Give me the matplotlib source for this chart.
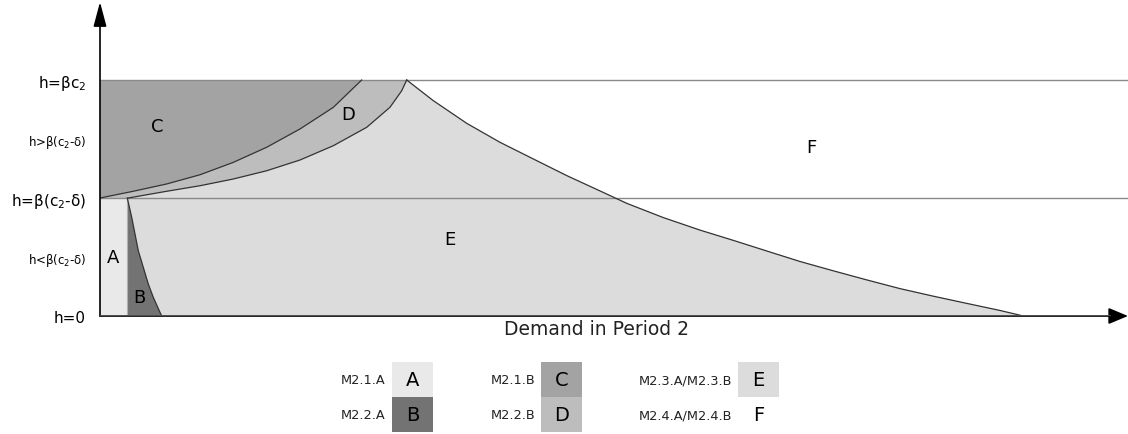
import numpy as np
import matplotlib.pyplot as plt
from matplotlib.patches import Rectangle

# x: demand in period 2 (pixel-like units from origin), y: h level
# (1 = beta(c2-delta), 2 = beta*c2)
curve_c_x = [0, 33.3, 66.7, 100, 133.3, 166.7, 200, 233.3, 261.7]
curve_c_y = [1.0, 1.057, 1.119, 1.197, 1.302, 1.43, 1.585, 1.768, 2.0]

curve_d_x = [28.3, 66.7, 100, 133.3, 166.7, 200, 233.3, 266.7, 290, 301.7, 306.7]
curve_d_y = [1.0, 1.057, 1.104, 1.161, 1.231, 1.322, 1.443, 1.599, 1.769, 1.909, 2.0]

curve_e_x = [306.7, 333.3, 366.7, 400, 433.3, 466.7, 500, 526.7, 563, 600, 633.3,
	666.7, 700, 733.3, 766.7, 800, 833.3, 866.7, 900, 923.3]
curve_e_y = [2.0, 1.825, 1.633, 1.472, 1.331, 1.19, 1.06, 0.955, 0.835, 0.728, 0.641,
	0.551, 0.462, 0.383, 0.306, 0.232, 0.168, 0.107, 0.047, 0.0]

curve_b_x = [27.3, 31.7, 35, 38.3, 43.3, 48.3, 53.3, 60, 61.7]
curve_b_y = [1.0, 0.836, 0.695, 0.553, 0.412, 0.271, 0.158, 0.031, 0.0]

a_right = 27.3
h_levels = [0, 0.5, 1, 1.5, 2]
h_labels = ['h=0', r'h<β(c$_2$-δ)', r'h=β(c$_2$-δ)', r'h>β(c$_2$-δ)', r'h=βc$_2$']
h_sizes = [11, 8.5, 11, 8.5, 11]

region_letters = ['A', 'B', 'C', 'D', 'E', 'F']
region_x = [13, 39, 57, 248, 350, 711]
region_y = [0.5, 0.16, 1.61, 1.71, 0.65, 1.43]

colors = {'A': '#e9e9e9', 'B': '#737373', 'C': '#a3a3a3',
          'D': '#bdbdbd', 'E': '#dcdcdc', 'F': 'white'}

legend_names = ['M2.1.A', 'M2.2.A', 'M2.1.B', 'M2.2.B', 'M2.3.A/M2.3.B', 'M2.4.A/M2.4.B']
legend_letters = ['A', 'B', 'C', 'D', 'E', 'F']

W, H = 1128, 435
fig = plt.figure(figsize=(W / 100, H / 100), dpi=100)
ax = fig.add_axes([100 / W, 118 / H, 1028 / W, 317 / H])
ax.set_xlim(0, 1028)
ax.set_ylim(0, 317 / 118)
for s in ax.spines.values():
	s.set_visible(False)

cx, cy = np.array(curve_c_x), np.array(curve_c_y)
dx, dy = np.array(curve_d_x), np.array(curve_d_y)
ex, ey = np.array(curve_e_x), np.array(curve_e_y)
bx, by = np.array(curve_b_x), np.array(curve_b_y)

# E region
px = np.concatenate([[0], ex[::-1], dx[::-1], [0]])
py = np.concatenate([[0], ey[::-1], dy[::-1], [1]])
ax.fill(px, py, color=colors['E'], lw=0)
# D region
ax.fill(np.concatenate([cx, [cx[-1], dx[-1]], dx[::-1]]),
	np.concatenate([cy, [2, 2], dy[::-1]]), color=colors['D'], lw=0)
# C region
ax.fill(np.concatenate([cx, [0]]), np.concatenate([cy, [2]]), color=colors['C'], lw=0)
# A region
ax.fill([0, a_right, a_right, 0], [0, 0, 1, 1], color=colors['A'], lw=0)
# B region
ax.fill(np.concatenate([bx, [a_right]]), np.concatenate([by, [0]]), color=colors['B'], lw=0)

# boundaries
ax.plot([0, 1028], [1, 1], color='#8a8a8a', lw=1)
ax.plot([0, 1028], [2, 2], color='#8a8a8a', lw=1)
ax.plot([a_right, a_right], [0, 1], color='#b0b0b0', lw=0.8)
for x, y in [(cx, cy), (dx, dy), (ex, ey), (bx, by)]:
	ax.plot(x, y, color='#333333', lw=0.9, solid_joinstyle='round')

# axes with arrows
ax.annotate('', xy=(0, 314 / 118), xytext=(0, 0), annotation_clip=False,
	arrowprops=dict(arrowstyle='-|>,head_length=15,head_width=4', mutation_scale=1,
		color='black', lw=1.2, shrinkA=0, shrinkB=0))
ax.annotate('', xy=(1028, 0), xytext=(0, 0), annotation_clip=False,
	arrowprops=dict(arrowstyle='-|>,head_length=12,head_width=5', mutation_scale=1,
		color='black', lw=1.2, shrinkA=0, shrinkB=0))
ax.plot([0, 1010], [0, 0], color='#555555', lw=1.3, zorder=5)

ax.set_xticks([])
ax.set_yticks(h_levels)
ax.set_yticklabels(h_labels)
ax.tick_params(axis='y', length=0, pad=10)
for lab, fs in zip(ax.get_yticklabels(), h_sizes):
	lab.set_fontsize(fs)

for t, x, y in zip(region_letters, region_x, region_y):
	ax.text(x, y, t, fontsize=13, ha='center', va='center')

fig.text(596 / W, 1 - 330 / H, 'Demand in Period 2', fontsize=13.5, ha='center',
	va='center', color='#222222', fontweight='medium')

# legend in pixel coordinates
lg = fig.add_axes([0, 0, 1, 1])
lg.set_xlim(0, W)
lg.set_ylim(H, 0)
lg.axis('off')
box_x = [392, 392, 541, 541, 738, 738]
box_y = [363, 398, 363, 398, 363, 398]
label_x = [385, 385, 535, 535, 732, 732]
for name, letter, bxp, byp, lx in zip(legend_names, legend_letters, box_x, box_y, label_x):
	if letter != 'F':
		lg.add_patch(Rectangle((bxp, byp), 41, 35, color=colors[letter], lw=0))
	lg.text(bxp + 20.5, byp + 18, letter, fontsize=14, ha='center', va='center')
	lg.text(lx, byp + 18, name, fontsize=9.3, ha='right', va='center', color='#222222')

plt.savefig('out.png', dpi=100)
